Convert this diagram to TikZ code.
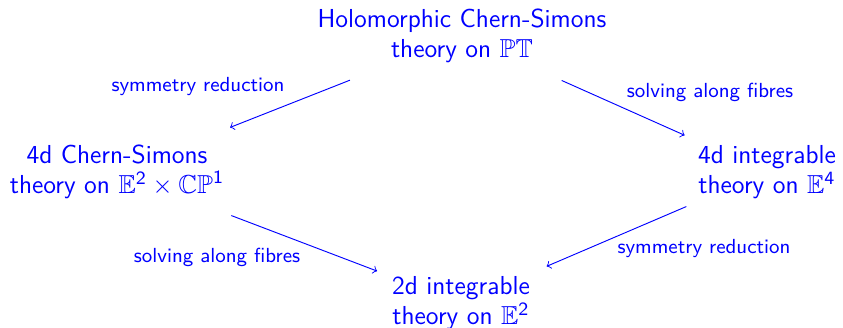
\documentclass[tikz,border=0pt]{standalone}
\usepackage{amssymb}
\usepackage{tikz}
\usetikzlibrary{positioning}
\renewcommand{\familydefault}{\sfdefault}

\begin{document}
\begin{tikzpicture}[
    x=0.015cm, y=-0.015cm,
    font=\fontsize{11.1}{12.8}\selectfont,
    theory/.style={
        text=blue,
        align=center,
        inner sep=0pt,
        outer sep=0pt
    },
    lbl/.style={text=blue, font=\fontsize{8.7}{10}\selectfont, inner sep=0pt},
    arr/.style={->, blue}
]
\useasboundingbox (0,0) rectangle (843,328);

% Theories
\node[theory] (hcs)  at (462,36)  {Holomorphic Chern-Simons\\theory on $\mathbb{PT}$};
\node[theory] (cs4)  at (117,172) {4d Chern-Simons\\theory on $\mathbb{E}^{\mathsf{2}}\times\mathbb{CP}^{\mathsf{1}}$};
\node[theory] (int4) at (767,172) {4d integrable\\theory on $\mathbb{E}^{\mathsf{4}}$};
\node[theory] (int2) at (461,303) {2d integrable\\theory on $\mathbb{E}^{\mathsf{2}}$};

% Labels
\node[lbl] (symA) at (198,87)  {symmetry reduction};
\node[lbl] (fibA) at (710,92)  {solving along fibres};
\node[lbl] (fibB) at (217,257) {solving along fibres};
\node[lbl] (symB) at (704,249) {symmetry reduction};

% Arrows
\draw[arr, shorten <=0.705cm, shorten >=0.72cm] (hcs) -- (cs4);
\draw[arr, shorten <=0.645cm, shorten >=0.37cm] (hcs) -- (int4);
\draw[arr, shorten <=0.70cm, shorten >=0.24cm] (cs4) -- (int2);
\draw[arr, shorten <=0.30cm, shorten >=0.38cm] (int4) -- (int2);

\end{tikzpicture}
\end{document}
